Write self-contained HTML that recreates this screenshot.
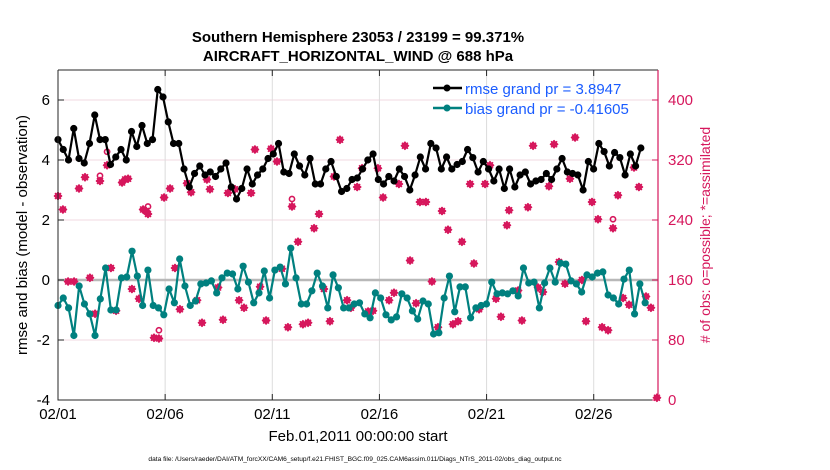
<!DOCTYPE html>
<html><head><meta charset="utf-8"><style>
body{margin:0;background:#fff;}
svg{display:block;font-family:"Liberation Sans",sans-serif;}
</style></head><body>
<svg id="chart" width="830" height="470" viewBox="0 0 830 470" xmlns="http://www.w3.org/2000/svg">
<rect width="830" height="470" fill="#fff"/>
<text x="358" y="42" text-anchor="middle" font-size="15" font-weight="bold">Southern Hemisphere 23053 / 23199 = 99.371%</text>
<text x="358" y="61" text-anchor="middle" font-size="15" font-weight="bold">AIRCRAFT_HORIZONTAL_WIND @ 688 hPa</text>
<g id="grid"></g>
<g id="marks"></g>
<g id="axes"></g>
<text x="358" y="441" text-anchor="middle" font-size="15">Feb.01,2011 00:00:00 start</text>
<text transform="translate(27,235) rotate(-90)" text-anchor="middle" font-size="15">rmse and bias (model - observation)</text>
<text transform="translate(710,235) rotate(-90)" text-anchor="middle" font-size="14" fill="#d6175c"># of obs: o=possible; *=assimilated</text>
<text x="355" y="461" text-anchor="middle" font-size="6.6">data file: /Users/raeder/DAI/ATM_forcXX/CAM6_setup/f.e21.FHIST_BGC.f09_025.CAM6assim.011/Diags_NTrS_2011-02/obs_diag_output.nc</text>
<g>
<line x1="433" y1="88" x2="462" y2="88" stroke="#000" stroke-width="2.5"/><circle cx="447" cy="88" r="3.5" fill="#000"/>
<text x="465" y="94" font-size="15" fill="#1a5cff">rmse grand pr = 3.8947</text>
<line x1="433" y1="108" x2="462" y2="108" stroke="#00807f" stroke-width="2.5"/><circle cx="447" cy="108" r="3.5" fill="#00807f"/>
<text x="465" y="114" font-size="15" fill="#1a5cff">bias grand pr = -0.41605</text>
</g>
</svg>
<script>
const rmse=[4.68,4.35,4.0,5.05,4.05,3.9,4.55,5.5,4.68,4.68,3.85,4.1,4.35,4.0,4.95,4.45,5.15,4.55,4.68,6.35,6.1,5.27,4.55,4.55,3.7,3.1,3.55,3.8,3.5,3.6,3.45,3.7,3.9,3.1,2.7,3.05,3.7,3.2,3.5,3.7,4.05,4.2,4.55,3.6,3.55,4.2,3.8,3.5,4.05,3.2,3.2,3.7,3.95,3.45,2.95,3.05,3.35,3.4,3.7,4.0,4.2,3.35,3.2,3.45,3.3,3.7,3.45,3.0,3.5,4.1,3.7,4.55,4.4,3.7,4.1,3.7,3.85,3.95,4.35,4.08,3.6,3.95,3.7,3.3,3.7,3.05,3.7,3.1,3.5,3.6,3.2,3.3,3.35,3.55,3.35,3.7,4.05,3.6,3.55,3.5,3.0,3.95,3.7,4.55,4.28,3.8,4.25,4.08,3.5,4.2,3.8,4.4];
const bias=[-0.85,-0.6,-0.93,-1.85,-0.2,-0.8,-1.13,-1.85,-0.63,0.4,-1.0,-1.0,0.07,0.1,0.96,0.13,-0.85,0.33,-0.85,-0.93,-1.16,-0.3,-0.76,0.7,-0.2,-0.85,-0.7,-0.13,-0.1,-0.03,-0.43,0.07,0.23,0.2,-0.3,0.46,-0.07,-0.76,-0.43,0.3,-0.6,0.33,0.43,-0.13,1.06,0.07,-0.8,-0.8,-0.36,0.23,-0.2,-0.93,0.17,-0.26,-0.93,-0.93,-0.8,-0.76,-1.13,-1.26,-0.43,-0.6,-1.16,-1.33,-1.23,-0.46,-0.6,-1.03,-1.3,-0.7,-0.8,-1.8,-1.76,-0.6,0.13,-1.06,-0.23,-0.23,-1.26,-0.93,-0.85,-0.8,-0.07,-0.46,-0.43,-0.46,-0.36,-0.53,0.4,-0.1,-0.07,-0.93,-0.1,0.4,-0.07,0.56,0.53,-0.03,-0.13,-0.4,0.17,0.1,0.23,0.27,-0.5,-0.6,-0.8,0.03,0.33,-1.13,-0.13,-0.76];
const obsDays=[0,0.23,0.98,1.26,1.96,2.29,2.99,3.13,3.27,3.97,4.11,4.2,4.95,5.23,6.02,6.21,6.95,7.09,7.93,8.26,9.01,9.19,9.94,10.22,10.92,11.2,11.95,12.18,12.88,13.16,13.96,14.19,14.93,15.17,15.91,16.19,16.89,17.17,17.92,18.2,18.85,19.23,19.41,19.93,20.16,20.95,21.05,21.93,22.17,22.91,23.15,23.89,24.13,24.92,25.2,25.9,26.13,26.88,27.11,0.47,0.75,1.49,1.73,2.47,2.71,3.45,3.78,4.48,4.71,5.46,5.69,6.49,6.72,7.47,7.7,8.45,8.68,9.43,9.71,10.45,10.73,11.43,11.67,12.41,12.69,13.49,13.67,14.47,14.7,15.45,15.68,16.43,16.71,17.45,17.73,18.43,18.67,19.65,20.44,20.67,21.47,21.65,22.4,22.63,23.38,23.66,24.45,24.64,25.39,25.67,26.37,26.65,27.44,27.67,27.95];
const obsCounts=[272,254,282,297,292,313,290,294,295,254,252,248,270,282,289,277,294,281,276,281,276,334,335,318,258,211,229,248,298,347,284,309,309,270,288,339,264,264,252,227,211,288,182,288,313,233,253,257,339,285,341,295,350,264,241,229,273,310,284,158,158,163,115,176,119,148,135,83,82,176,121,133,103,150,107,133,123,151,106,175,97,101,103,148,105,133,123,118,119,133,143,186,129,158,97,101,105,121,135,111,146,106,150,144,184,155,160,105,97,93,136,127,138,123,3];
const possDays=[1.96,2.29,4.2,4.71,10.92,25.9];
const possCounts=[299,331,258,93,268,241];
const xTickLabels=["02/01","02/06","02/11","02/16","02/21","02/26"];
const xTickDays=[0,5,10,15,20,25];
const yLeftTicks=[-4,-2,0,2,4,6];
const yRightTicks=[0,80,160,240,320,400];
const rmseLastDay=27.2;
const biasLastDay=27.4;

const NS="http://www.w3.org/2000/svg";
const L=58,R=658,T=70,B=400;
const X=d=>L+(d/28)*(R-L);
const Y=v=>B-(v+4)/11*(B-T);
const YR=c=>B-c/440*(B-T);
const CR="#d6175c";
function mk(tag,attrs,parent){const e=document.createElementNS(NS,tag);for(const k in attrs)e.setAttribute(k,attrs[k]);parent.appendChild(e);return e;}
const grid=document.getElementById('grid'),marks=document.getElementById('marks'),axes=document.getElementById('axes');

yRightTicks.forEach(c=>{if(c===0||c===160)return;const g=mk('line',{x1:L,x2:R,y1:YR(c),y2:YR(c),stroke:'#f0d8e2','stroke-width':1},grid);

});
xTickDays.forEach(d=>{if(d===0)return;const g=mk('line',{x1:X(d),x2:X(d),y1:T,y2:B,stroke:'#dcdcdc','stroke-width':1},grid);

});
const z=mk('line',{x1:L,x2:R,y1:Y(0),y2:Y(0),stroke:'#b8b8b8','stroke-width':2.5},grid);



function star(cx,cy,parent){const g=mk('g',{},parent);


mk('path',{d:`M${cx} ${cy-4.5}L${cx+4.5} ${cy}L${cx} ${cy+4.5}L${cx-4.5} ${cy}Z`,fill:CR},g);
mk('path',{d:`M${cx-4} ${cy}H${cx+4}M${cx} ${cy-4}V${cy+4}M${cx-3} ${cy-3}L${cx+3} ${cy+3}M${cx-3} ${cy+3}L${cx+3} ${cy-3}`,stroke:CR,'stroke-width':1.5},g);}
obsDays.forEach((d,i)=>star(X(d),YR(obsCounts[i]),marks));
possDays.forEach((d,i)=>{const c=mk('circle',{cx:X(d),cy:YR(possCounts[i]),r:2.6,fill:'none',stroke:CR,'stroke-width':1.6},marks);

});

function series(vals,lastDay,color,name){const step=lastDay/(vals.length-1);const pts=vals.map((v,i)=>[X(i*step),Y(v)]);
const p=mk('polyline',{points:pts.map(p=>p.join(',')).join(' '),fill:'none',stroke:color,'stroke-width':2.2,'stroke-linejoin':'round'},marks);


pts.forEach(q=>{const c=mk('circle',{cx:q[0],cy:q[1],r:3.6,fill:color},marks);

});}
series(rmse,rmseLastDay,'#000','rmse');
series(bias,biasLastDay,'#00807f','bias');

const bx=mk('path',{d:`M${L} ${T}H${R}M${L} ${T}V${B}H${R}`,stroke:'#262626',fill:'none','stroke-width':1},axes);


const ra=mk('line',{x1:R,x2:R,y1:T,y2:B,stroke:CR,'stroke-width':1.2},axes);


xTickDays.forEach((d,i)=>{mk('line',{x1:X(d),x2:X(d),y1:B,y2:B-6,stroke:'#262626'},axes);mk('line',{x1:X(d),x2:X(d),y1:T,y2:T+6,stroke:'#262626'},axes);
const t=mk('text',{x:X(d),y:B+19,'text-anchor':'middle','font-size':15},axes);t.textContent=xTickLabels[i];

});
yLeftTicks.forEach(v=>{mk('line',{x1:L,x2:L+6,y1:Y(v),y2:Y(v),stroke:'#262626'},axes);
const t=mk('text',{x:L-8,y:Y(v)+5,'text-anchor':'end','font-size':15},axes);t.textContent=v;

});
yRightTicks.forEach(c=>{mk('line',{x1:R,x2:R-6,y1:YR(c),y2:YR(c),stroke:CR},axes);
const t=mk('text',{x:R+10,y:YR(c)+5,'font-size':15,fill:CR},axes);t.textContent=c;

});
</script>
</body></html>
